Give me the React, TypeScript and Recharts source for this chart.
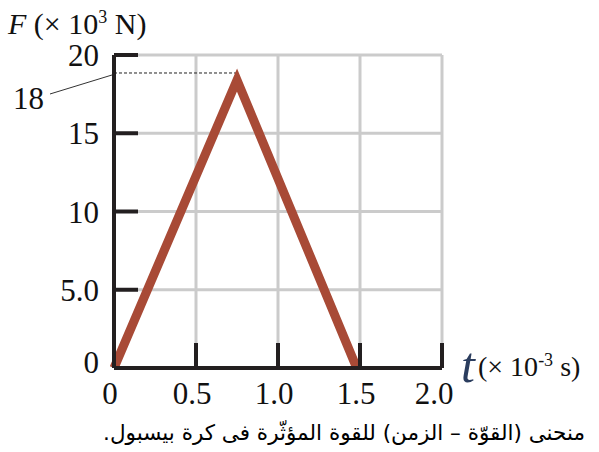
import { LineChart, Line, XAxis, YAxis, CartesianGrid, ReferenceLine } from "recharts";

// force on a baseball during contact, F in 10^3 N vs t in 10^-3 s
const TIME_MS = [0, 0.75, 1.48];
const FORCE_KN = [0, 18.4, 0];

const X_TICKS = [0, 0.5, 1.0, 1.5, 2.0];
const X_TICK_LABELS = ["0", "0.5", "1.0", "1.5", "2.0"];
const Y_TICKS = [0, 5, 10, 15, 20];
const Y_TICK_LABELS = ["0", "5.0", "10", "15", "20"];

const PEAK_LABEL = "18";
const PEAK_GUIDE = 18.85;
const CAPTION = "منحنى (القوّة – الزمن) للقوة المؤثّرة فى كرة بيسبول.";

const data = TIME_MS.map((t, i) => ({ t, force: FORCE_KN[i] }));

const AXIS_COLOR = "#231f20";
const GRID_COLOR = "#cbcbcb";
const LINE_COLOR = "#a84a36";
const SERIF = "'Liberation Serif', 'Times New Roman', serif";
const TICK_FONT = 31;

function YTick(props: any) {
  const { x, y, payload } = props;
  const label = Y_TICK_LABELS[Y_TICKS.indexOf(payload.value)];
  const isZero = payload.value === 0;
  return (
    <g>
      {!isZero && <line x1={x} x2={x + 24} y1={y} y2={y} stroke={AXIS_COLOR} strokeWidth={4} />}
      <text x={x - 15} y={y + (isZero ? 5 : 11)} textAnchor="end" fontFamily={SERIF} fontSize={TICK_FONT} fill="#111">
        {label}
      </text>
    </g>
  );
}

function XTick(props: any) {
  const { x, y, payload } = props;
  const label = X_TICK_LABELS[X_TICKS.indexOf(payload.value)];
  const isZero = payload.value === 0;
  // the last label sits a little further left in the original
  const shift = payload.value === 2 ? -8 : -4;
  return (
    <g>
      {!isZero && <line x1={x} x2={x} y1={y} y2={y - 25} stroke={AXIS_COLOR} strokeWidth={4} />}
      <text x={x + shift} y={y + 36} textAnchor="middle" fontFamily={SERIF} fontSize={TICK_FONT} fill="#111">
        {label}
      </text>
    </g>
  );
}

function PeakLabel(props: any) {
  const { viewBox } = props;
  const x = viewBox.x;
  const y = viewBox.y;
  return (
    <g>
      <line x1={x - 2} y1={y + 2} x2={x - 64} y2={y + 21} stroke="#333" strokeWidth={1} />
      <text x={x - 70} y={y + 36} textAnchor="end" fontFamily={SERIF} fontSize={TICK_FONT} fill="#111">
        {PEAK_LABEL}
      </text>
    </g>
  );
}

export default function App() {
  return (
    <div style={{ position: "absolute", left: 0, top: 0, width: 599, height: 452, background: "#fff" }}>
      <LineChart width={599} height={452} data={data} margin={{ top: 55, right: 157, left: 54, bottom: 54 }}>
        <CartesianGrid stroke={GRID_COLOR} strokeWidth={3} />
        <XAxis
          dataKey="t"
          type="number"
          domain={[0, 2]}
          ticks={X_TICKS}
          height={30}
          tickSize={0}
          tickMargin={0}
          tickLine={false}
          tick={<XTick />}
          axisLine={{ stroke: AXIS_COLOR, strokeWidth: 4 }}
          interval={0}
        />
        <YAxis
          type="number"
          domain={[0, 20]}
          ticks={Y_TICKS}
          width={60}
          tickSize={0}
          tickMargin={0}
          tickLine={false}
          tick={<YTick />}
          axisLine={{ stroke: AXIS_COLOR, strokeWidth: 4 }}
          interval={0}
        />
        <ReferenceLine
          segment={[
            { x: 0, y: PEAK_GUIDE },
            { x: TIME_MS[1], y: PEAK_GUIDE },
          ]}
          stroke="#222"
          strokeWidth={1}
          strokeDasharray="3 2"
          label={<PeakLabel />}
        />
        <Line
          type="linear"
          dataKey="force"
          stroke={LINE_COLOR}
          strokeWidth={9}
          strokeLinejoin="miter"
          dot={false}
          activeDot={false}
          isAnimationActive={false}
        />
      </LineChart>
      <svg width={599} height={452} style={{ position: "absolute", left: 0, top: 0, pointerEvents: "none" }}>
        <text x={8} y={34} fontFamily={SERIF} fontSize={30} fill="#111">
          <tspan fontStyle="italic">F</tspan>
          <tspan> (× 10</tspan>
          <tspan fontSize={18} dy={-11}>3</tspan>
          <tspan dy={11}> N)</tspan>
        </text>
        <text x={461} y={382} fontFamily={SERIF} fontSize={50} fill="#2b3d5e" fontStyle="italic">
          t
        </text>
        <text x={478} y={376} fontFamily={SERIF} fontSize={28} fill="#111">
          <tspan>(× 10</tspan>
          <tspan fontSize={18} dy={-10}>-3</tspan>
          <tspan dy={10}>  s)</tspan>
        </text>
      </svg>
      <div
        dir="rtl"
        style={{
          position: "absolute",
          right: 14,
          top: 420,
          fontFamily: "'DejaVu Sans', sans-serif",
          fontSize: 21.5,
          color: "#000",
          whiteSpace: "nowrap",
        }}
      >
        {CAPTION}
      </div>
    </div>
  );
}
